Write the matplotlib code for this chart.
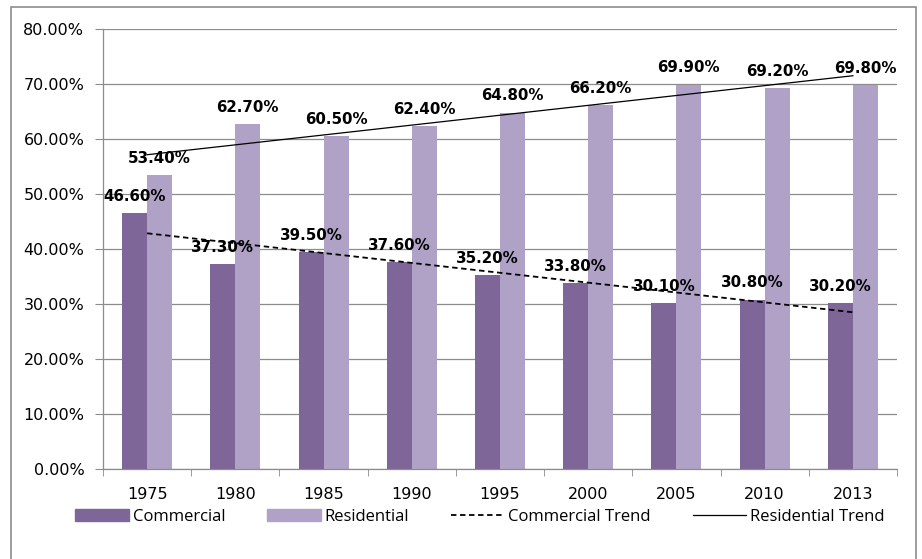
import numpy as np
import matplotlib
matplotlib.use("Agg")
import matplotlib.pyplot as plt
from matplotlib.patches import Rectangle
from matplotlib.lines import Line2D
from matplotlib.ticker import FuncFormatter, MultipleLocator

years = ["1975", "1980", "1985", "1990", "1995", "2000", "2005", "2010", "2013"]
commercial = [46.6, 37.3, 39.5, 37.6, 35.2, 33.8, 30.1, 30.8, 30.2]
residential = [53.4, 62.7, 60.5, 62.4, 64.8, 66.2, 69.9, 69.2, 69.8]

C_COM = "#7E6699"
C_RES = "#B0A2C6"
GRID = "#8C8C8C"

fig = plt.figure(figsize=(9.22, 5.59), dpi=100)
ax = fig.add_axes([103 / 922, 1 - 469 / 559, 794 / 922, 440 / 559])

x = np.arange(len(years))
w = 0.283
ax.bar(x - w / 2, commercial, w, color=C_COM, zorder=2)
ax.bar(x + w / 2, residential, w, color=C_RES, zorder=2)

# linear trends
pc = np.polyfit(x, commercial, 1)
pr = np.polyfit(x, residential, 1)
ax.plot(x, np.polyval(pc, x), color="black", ls=(0, (3, 2)), lw=1.3, zorder=3)
ax.plot(x, np.polyval(pr, x), color="black", ls="-", lw=0.9, zorder=3)

for xi, v in zip(x, commercial):
    ax.annotate(f"{v:.2f}%", (xi - w / 2, v), xytext=(0, 12), textcoords="offset points",
                ha="center", va="center", fontsize=10.8, fontweight="bold", zorder=4)
for xi, v in zip(x, residential):
    ax.annotate(f"{v:.2f}%", (xi + w / 2, v), xytext=(0, 12), textcoords="offset points",
                ha="center", va="center", fontsize=10.8, fontweight="bold", zorder=4)

ax.set_xlim(-0.5, len(years) - 0.5)
ax.set_ylim(0, 80)
ax.yaxis.set_major_locator(MultipleLocator(10))
ax.yaxis.set_major_formatter(FuncFormatter(lambda v, p: f"{v:.2f}%"))
ax.grid(axis="y", color=GRID, lw=0.9, zorder=0)
ax.set_axisbelow(True)

ax.set_xticks(x)
ax.set_xticklabels(years)
ax.set_xticks(np.arange(-0.5, len(years)), minor=True)
ax.tick_params(axis="x", which="major", length=0, labelsize=11.5, pad=13)
ax.tick_params(axis="x", which="minor", length=5, color=GRID, direction="out")
ax.tick_params(axis="y", length=6, color=GRID, labelsize=11.5, pad=7.5)

for s in ["top", "right"]:
    ax.spines[s].set_visible(False)
for s in ["left", "bottom"]:
    ax.spines[s].set_color(GRID)
    ax.spines[s].set_linewidth(0.9)

handles = [
    Rectangle((0, 0), 1, 1, color=C_COM),
    Rectangle((0, 0), 1, 1, color=C_RES),
    Line2D([], [], color="black", ls=(0, (3, 2)), lw=1.3),
    Line2D([], [], color="black", lw=0.9),
]
labels = ["Commercial", "Residential", "Commercial Trend", "Residential Trend"]
fig.legend(handles, labels, loc="center", bbox_to_anchor=(480 / 922, 1 - 517 / 559),
           ncol=4, frameon=False, handlelength=3.2, handleheight=0.7,
           handletextpad=0.25, columnspacing=2.5,
           prop={"family": "Open Sans", "size": 12})

# outer chart border
fig.add_artist(Rectangle((11 / 922, -0.05), 905 / 922, 1 - 7 / 559 + 0.05,
                         transform=fig.transFigure, fill=False, ec="#8C8C8C", lw=1.2))

fig.savefig("out.png", dpi=100)
